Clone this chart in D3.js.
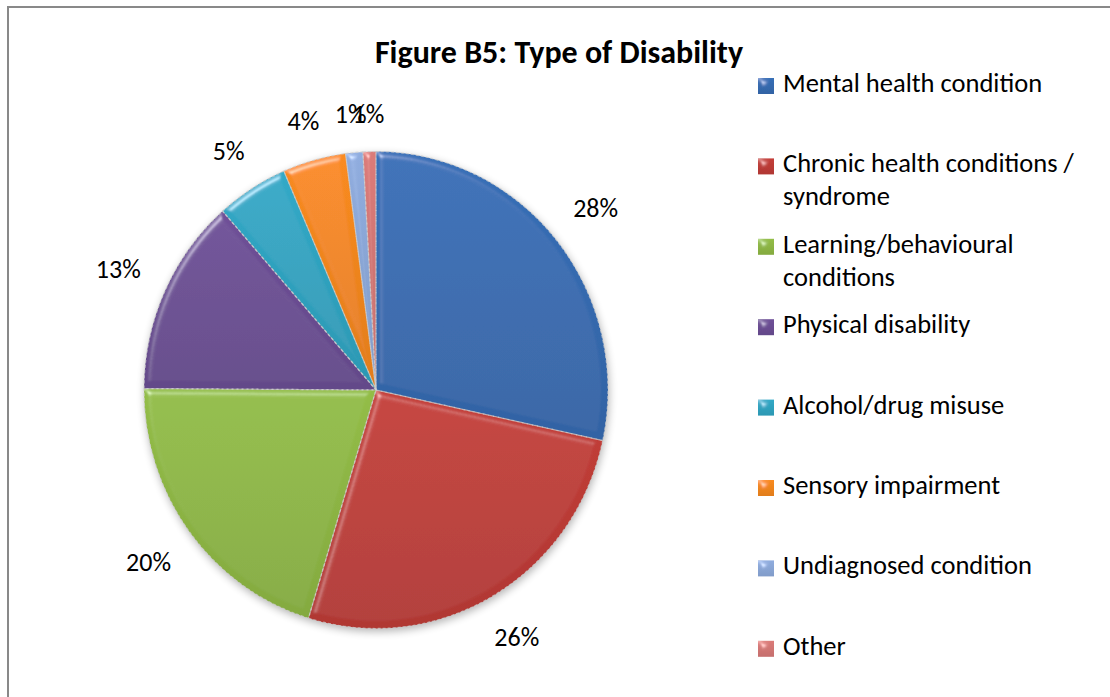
<!DOCTYPE html>
<html>
<head>
<meta charset="utf-8">
<script src="https://cdn.jsdelivr.net/npm/d3@7"></script>
<style>
  html, body { margin: 0; padding: 0; background: #fff; }
  svg { display: block; }
  text { font-family: Carlito, Calibri, Lato, "Open Sans", sans-serif; fill: #000; }
</style>
</head>
<body>
<svg id="chart" width="1110" height="697"></svg>
<script>
// ---- data ----
const titleText = "Figure B5: Type of Disability";
const categories = [
  "Mental health condition",
  "Chronic health conditions / syndrome",
  "Learning/behavioural conditions",
  "Physical disability",
  "Alcohol/drug misuse",
  "Sensory impairment",
  "Undiagnosed condition",
  "Other"
];
const legendLines = [
  ["Mental health condition"],
  ["Chronic health conditions /", "syndrome"],
  ["Learning/behavioural", "conditions"],
  ["Physical disability"],
  ["Alcohol/drug misuse"],
  ["Sensory impairment"],
  ["Undiagnosed condition"],
  ["Other"]
];
const values = [28.4, 26.3, 20.4, 13.4, 5.0, 4.4, 1.2, 0.9];
const colors = ["#356AAF", "#BC3B36", "#8DB544", "#6A4D92", "#2FA2BF", "#F0851F", "#8AA6D6", "#D27674"];

// ---- layout ----
const svg = d3.select("#chart");
const cx = 376, cy = 390, r = 232, yScale = 1.028;

// frame (only top/left visible in the reference)
svg.append("rect").attr("x", 8).attr("y", 7).attr("width", 1300).attr("height", 900)
  .attr("fill", "#fff").attr("stroke", "#898989").attr("stroke-width", 2);

const defs = svg.append("defs");
// bevel filter (subtle edge highlight)
const f = defs.append("filter").attr("id", "bevel").attr("x", "-10%").attr("y", "-10%").attr("width", "120%").attr("height", "120%");
f.append("feGaussianBlur").attr("in", "SourceAlpha").attr("stdDeviation", 3).attr("result", "blur");
const spec = f.append("feSpecularLighting").attr("in", "blur").attr("surfaceScale", 5)
  .attr("specularConstant", 0.5).attr("specularExponent", 22).attr("lighting-color", "#ffffff").attr("result", "spec");
spec.append("feDistantLight").attr("azimuth", 235).attr("elevation", 30);
f.append("feComposite").attr("in", "spec").attr("in2", "SourceAlpha").attr("operator", "in").attr("result", "specOut");
f.append("feComposite").attr("in", "SourceGraphic").attr("in2", "specOut").attr("operator", "arithmetic")
  .attr("k1", 0).attr("k2", 1).attr("k3", 0.8).attr("k4", 0);

// gradients per colour
colors.forEach((c, i) => {
  const g = defs.append("linearGradient").attr("id", "grad" + i)
    .attr("x1", 0).attr("y1", 0).attr("x2", 0).attr("y2", 1);
  g.append("stop").attr("offset", "0%").attr("stop-color", d3.color(c).brighter(0.12));
  g.append("stop").attr("offset", "100%").attr("stop-color", d3.color(c).darker(0.18));
});

// shadow
const sh = defs.append("filter").attr("id", "shadow").attr("x", "-20%").attr("y", "-20%").attr("width", "140%").attr("height", "140%");
sh.append("feGaussianBlur").attr("in", "SourceAlpha").attr("stdDeviation", 4).attr("result", "b");
sh.append("feOffset").attr("in", "b").attr("dx", 1).attr("dy", 3).attr("result", "o");
sh.append("feComponentTransfer").attr("in", "o").append("feFuncA").attr("type", "linear").attr("slope", 0.3);

// title
svg.append("text").attr("x", 559).attr("y", 63).attr("text-anchor", "middle")
  .attr("font-size", 32).attr("font-weight", "bold").text(titleText);

// pie
const pie = d3.pie().value(d => d).sort(null);
const arcs = pie(values);
const arc = d3.arc().innerRadius(0).outerRadius(r);

const gp = svg.append("g").attr("transform", `translate(${cx},${cy}) scale(1,${yScale})`);
gp.append("circle").attr("r", r).attr("fill", "#000").attr("filter", "url(#shadow)");
gp.selectAll("path.slice").data(arcs).enter().append("path")
  .attr("class", "slice")
  .attr("d", arc)
  .attr("fill", (d, i) => `url(#grad${i})`)
  .attr("filter", "url(#bevel)");
gp.selectAll("path.edge").data(arcs).enter().append("path")
  .attr("class", "edge")
  .attr("d", arc)
  .attr("fill", "none")
  .attr("stroke", "#cfcfcf")
  .attr("stroke-width", 1.2)
  .attr("stroke-dasharray", "3,2")
  .attr("opacity", 0.7);

// labels
const total = d3.sum(values);
const fmt = d3.format(".0%");
const labelSize = 26, capH = 18, gap = 27;
arcs.forEach((d, i) => {
  const a = (d.startAngle + d.endAngle) / 2;
  const t = svg.append("text").attr("font-size", labelSize).attr("text-anchor", "middle")
    .text(fmt(d.value / total));
  const w = t.node().getComputedTextLength();
  const sx = Math.sin(a), sy = -Math.cos(a);
  const dist = r + gap + (w / 2) * Math.abs(sx) + (capH / 2) * Math.abs(sy);
  t.attr("x", cx + dist * sx).attr("y", cy + dist * sy * yScale + capH / 2);
});

// legend
const lgX = 758, lgTextX = 783, lgBase0 = 92, lgStep = 80.4, lineH = 33, sq = 16;
const lg = svg.append("g");
legendLines.forEach((lines, i) => {
  const base = lgBase0 + i * lgStep;
  lg.append("rect").attr("x", lgX).attr("y", base - 14).attr("width", sq).attr("height", sq)
    .attr("fill", `url(#grad${i})`).attr("filter", "url(#bevel)");
  const t = lg.append("text").attr("x", lgTextX).attr("y", base).attr("font-size", 26.5);
  lines.forEach((ln, j) => {
    t.append("tspan").attr("x", lgTextX).attr("y", base + j * lineH).text(ln);
  });
});
</script>
</body>
</html>
